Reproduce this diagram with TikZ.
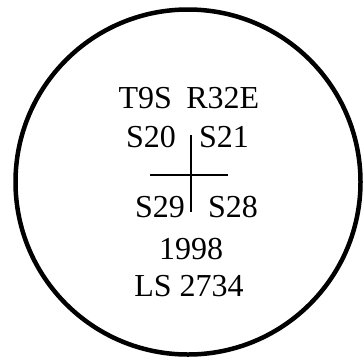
\documentclass[tikz,border=0pt]{standalone}
\usepackage{fontspec}
\setmainfont{Liberation Serif}
\begin{document}
\begin{tikzpicture}[x=1pt,y=-1pt,
  lbl/.style={anchor=base,inner sep=0pt,font=\fontsize{32}{32}\selectfont},
  ring/.style={line width=4.5pt},
  cross/.style={line width=1.8pt}]
\useasboundingbox (0,0) rectangle (363,357);
\draw[ring] (188,182) circle[radius=172.5];
\node[lbl] (tr) at (189,108.5) {T9S\hspace{0.45em}R32E};
\node[lbl] (s20) at (151,147) {S20};
\node[lbl] (s21) at (224,147) {S21};
\node[lbl] (s29) at (160,217) {S29};
\node[lbl] (s28) at (233,217) {S28};
\node[lbl] (yr) at (191,259) {1998};
\node[lbl] (ls) at (189,296) {LS 2734};
\coordinate (vt) at (191,135);
\coordinate (vb) at (191,212);
\coordinate (hl) at (150,175);
\coordinate (hr) at (227.5,175);
\draw[cross] (vt) -- (vb);
\draw[cross] (hl) -- (hr);
\end{tikzpicture}
\end{document}
